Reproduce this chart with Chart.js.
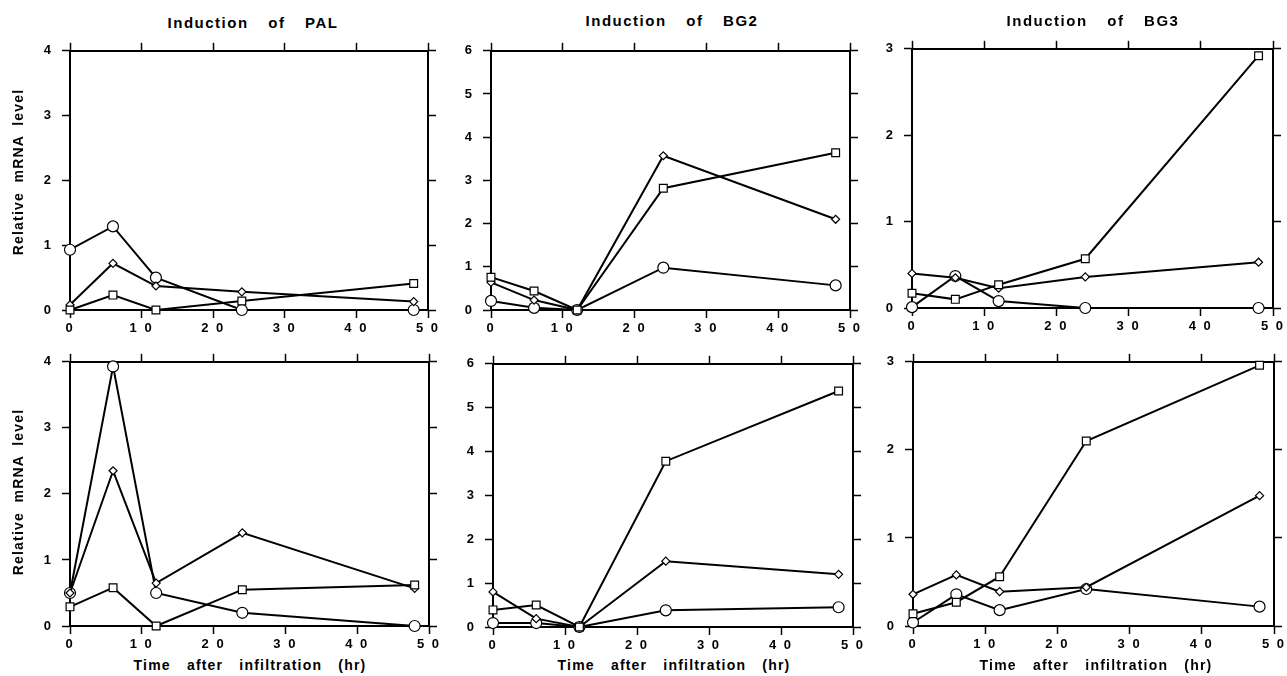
<!DOCTYPE html>
<html>
<head>
<meta charset="utf-8">
<script src="https://cdn.jsdelivr.net/npm/chart.js@4.4.1/dist/chart.umd.min.js"></script>
<style>
html, body { margin: 0; padding: 0; background: #fff; }
body { width: 1287px; height: 676px; position: relative; overflow: hidden;
       font-family: "Liberation Sans", Arial, sans-serif; color: #000; }
canvas { position: absolute; }
.lbl { position: absolute; font-weight: bold; white-space: nowrap; }
.title { font-size: 15px; line-height: 15px; letter-spacing: 1.5px; word-spacing: 14px; transform: translateX(-50%); }
.xt { font-size: 14px; line-height: 14px; letter-spacing: 1.2px; word-spacing: 11px; transform: translateX(-50%); }
.yt { font-size: 14px; line-height: 14px; letter-spacing: 1.2px; word-spacing: 4.5px; transform: translate(-50%, -50%) rotate(-90deg); }
</style>
</head>
<body>
<script>
// Sampling times (hours after infiltration)
const hours = [0, 6, 12, 24, 48];
const xTickLabels = ['0', '1 0', '2 0', '3 0', '4 0', '5 0'];

// Upper row
const palTopSquare  = [0.00, 0.23, 0.00, 0.14, 0.41];
const palTopDiamond = [0.08, 0.72, 0.37, 0.28, 0.13];
const palTopCircle  = [0.93, 1.29, 0.50, 0.00, 0.00];

const bg2TopSquare  = [0.76, 0.44, 0.00, 2.82, 3.64];
const bg2TopDiamond = [0.64, 0.23, 0.00, 3.57, 2.10];
const bg2TopCircle  = [0.21, 0.05, 0.00, 0.98, 0.57];

const bg3TopSquare  = [0.17, 0.10, 0.27, 0.57, 2.92];
const bg3TopDiamond = [0.40, 0.35, 0.23, 0.36, 0.53];
const bg3TopCircle  = [0.01, 0.37, 0.08, 0.00, 0.00];

// Lower row
const palBotSquare  = [0.29, 0.58, 0.00, 0.55, 0.62];
const palBotDiamond = [0.50, 2.35, 0.65, 1.41, 0.57];
const palBotCircle  = [0.50, 3.93, 0.50, 0.20, 0.00];

const bg2BotSquare  = [0.39, 0.50, 0.00, 3.78, 5.38];
const bg2BotDiamond = [0.80, 0.19, 0.00, 1.50, 1.20];
const bg2BotCircle  = [0.09, 0.09, 0.00, 0.38, 0.45];

const bg3BotSquare  = [0.14, 0.27, 0.56, 2.10, 2.96];
const bg3BotDiamond = [0.36, 0.58, 0.39, 0.44, 1.48];
const bg3BotCircle  = [0.04, 0.36, 0.18, 0.42, 0.22];

// Y axis maxima
const yMaxPal = 4, yMaxBg2 = 6, yMaxBg3 = 3;

const titles = ['Induction of PAL', 'Induction of BG2', 'Induction of BG3'];
const yTitle = 'Relative mRNA level';
const xTitle = 'Time after infiltration (hr)';

const FONT = "'Liberation Sans', Arial, sans-serif";
const INK = '#000';

function triple(sq, di, ci) {
  return [
    { values: sq, style: 'rect', radius: 5.5 },
    { values: di, style: 'rectRot', radius: 4 },
    { values: ci, style: 'circle', radius: 5.5 }
  ];
}

function makePanel(box, yMax, sets) {
  const PADL = 45, PADR = 18, PADT = 14, PADB = 30;
  const w = box.r - box.l + PADL + PADR;
  const h = box.b - box.t + PADT + PADB;
  const cv = document.createElement('canvas');
  cv.width = w; cv.height = h;
  cv.style.left = (box.l - PADL) + 'px';
  cv.style.top = (box.t - PADT) + 'px';
  cv.style.width = w + 'px';
  cv.style.height = h + 'px';
  document.body.appendChild(cv);

  const grid = { drawOnChartArea: false, drawTicks: true, tickLength: 8, tickWidth: 1.5, color: INK };
  const border = { display: true, width: 2, color: INK };
  const tickFont = { family: FONT, size: 13, weight: 'bold' };

  new Chart(cv, {
    type: 'line',
    data: {
      datasets: sets.map(s => ({
        data: hours.map((x, i) => ({ x: x, y: s.values[i] })),
        borderColor: INK,
        borderWidth: 2,
        pointStyle: s.style,
        pointRadius: s.radius,
        pointBorderWidth: 1.2,
        pointBorderColor: INK,
        pointBackgroundColor: '#fff',
        tension: 0,
        fill: false,
        clip: false
      }))
    },
    options: {
      responsive: false,
      animation: false,
      devicePixelRatio: 1,
      events: [],
      layout: { padding: 0 },
      plugins: { legend: { display: false }, tooltip: { enabled: false }, title: { display: false } },
      scales: {
        x: {
          type: 'linear', position: 'bottom', min: 0, max: 50,
          grid: grid, border: border,
          afterFit: s => { s.height = PADB; },
          ticks: {
            stepSize: 10, autoSkip: false, maxRotation: 0, padding: 3,
            color: INK, font: tickFont,
            callback: v => xTickLabels[Math.round(v / 10)]
          }
        },
        x2: {
          type: 'linear', position: 'top', min: 0, max: 50,
          grid: grid, border: border,
          afterFit: s => { s.height = PADT; },
          ticks: { stepSize: 10, display: false }
        },
        y: {
          type: 'linear', position: 'left', min: 0, max: yMax,
          grid: grid, border: border,
          afterFit: s => { s.width = PADL; },
          ticks: { stepSize: 1, padding: 9, color: INK, font: tickFont }
        },
        y2: {
          type: 'linear', position: 'right', min: 0, max: yMax,
          grid: grid, border: border,
          afterFit: s => { s.width = PADR; },
          ticks: { stepSize: 1, display: false }
        }
      }
    },
    plugins: [{
      id: 'letterSpacing',
      beforeDraw(chart) { chart.ctx.letterSpacing = '2px'; }
    }]
  });
}

makePanel({ l: 70,  r: 428,  t: 48,  b: 310 }, yMaxPal, triple(palTopSquare, palTopDiamond, palTopCircle));
makePanel({ l: 491, r: 850,  t: 48,  b: 310 }, yMaxBg2, triple(bg2TopSquare, bg2TopDiamond, bg2TopCircle));
makePanel({ l: 912, r: 1273, t: 46,  b: 308 }, yMaxBg3, triple(bg3TopSquare, bg3TopDiamond, bg3TopCircle));
makePanel({ l: 70,  r: 429,  t: 359, b: 626 }, yMaxPal, triple(palBotSquare, palBotDiamond, palBotCircle));
makePanel({ l: 493, r: 853,  t: 361, b: 627 }, yMaxBg2, triple(bg2BotSquare, bg2BotDiamond, bg2BotCircle));
makePanel({ l: 913, r: 1274, t: 359, b: 626 }, yMaxBg3, triple(bg3BotSquare, bg3BotDiamond, bg3BotCircle));

function addLabel(cls, text, x, y) {
  const d = document.createElement('div');
  d.className = 'lbl ' + cls;
  d.textContent = text;
  d.style.left = x + 'px';
  d.style.top = y + 'px';
  document.body.appendChild(d);
}

addLabel('title', titles[0], 253, 15);
addLabel('title', titles[1], 672, 13);
addLabel('title', titles[2], 1093, 13);
addLabel('xt', xTitle, 250, 658);
addLabel('xt', xTitle, 674, 658);
addLabel('xt', xTitle, 1096, 658);
addLabel('yt', yTitle, 18, 172);
addLabel('yt', yTitle, 18, 492);
</script>
</body>
</html>
